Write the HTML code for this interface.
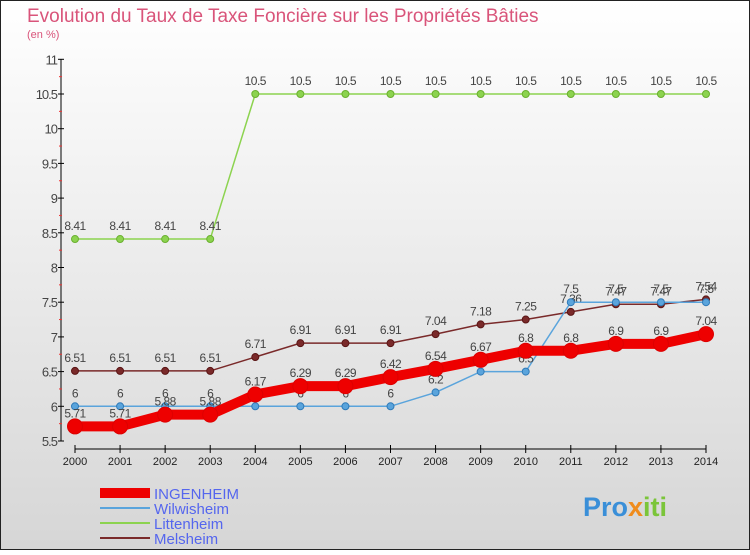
<!DOCTYPE html>
<html><head><meta charset="utf-8"><style>
body{margin:0;width:750px;height:550px;overflow:hidden;font-family:"Liberation Sans",sans-serif}
svg text{font-family:"Liberation Sans",sans-serif}
</style></head><body>
<svg id="c" width="750" height="550">
<defs><linearGradient id="bg" x1="0" y1="0" x2="0" y2="1"><stop offset="0" stop-color="#ffffff"/><stop offset="1" stop-color="#d6d6d6"/></linearGradient></defs>
<rect x="0.5" y="0.5" width="749" height="549" fill="url(#bg)" stroke="#222"/>
<text x="27" y="22" font-size="19" fill="#d9547a">Evolution du Taux de Taxe Foncière sur les Propriétés Bâties</text>
<text x="27" y="38" font-size="11" fill="#d9547a">(en %)</text>
<g id="axes"></g><g id="series"></g><g id="legend"></g>
<text x="583" y="516" font-size="27" font-weight="bold" fill="#3a8fd8">Pro<tspan fill="#f08c1c">x</tspan><tspan fill="#7bc53a">iti</tspan></text>
</svg>
<script>
const years=[2000,2001,2002,2003,2004,2005,2006,2007,2008,2009,2010,2011,2012,2013,2014];
const yTicks=[5.5,6,6.5,7,7.5,8,8.5,9,9.5,10,10.5,11];
const ingenheim=[5.71,5.71,5.88,5.88,6.17,6.29,6.29,6.42,6.54,6.67,6.8,6.8,6.9,6.9,7.04];
const wilwisheim=[6,6,6,6,6,6,6,6,6.2,6.5,6.5,7.5,7.5,7.5,7.5];
const littenheim=[8.41,8.41,8.41,8.41,10.5,10.5,10.5,10.5,10.5,10.5,10.5,10.5,10.5,10.5,10.5];
const melsheim=[6.51,6.51,6.51,6.51,6.71,6.91,6.91,6.91,7.04,7.18,7.25,7.36,7.47,7.47,7.54];
const NS="http://www.w3.org/2000/svg";
const x=i=>75+i*(631/14);
const y=v=>441-(v-5.5)*69.4;
function mk(tag,attrs,parent){const e=document.createElementNS(NS,tag);for(const k in attrs)e.setAttribute(k,attrs[k]);parent.appendChild(e);return e;}
const ax=document.getElementById('axes');
let l=mk('line',{x1:61,y1:y(11),x2:61,y2:y(5.5),stroke:'#000'},ax);


l=mk('line',{x1:75,y1:449,x2:706,y2:449,stroke:'#000'},ax);


yTicks.forEach((v,i)=>{
 mk('line',{x1:58,y1:y(v),x2:64,y2:y(v),stroke:'#000'},ax);
 if(i<yTicks.length-1) mk('line',{x1:59,y1:y(v+0.25),x2:62,y2:y(v+0.25),stroke:'#e33'},ax);
 const t=mk('text',{x:57,y:y(v)+5,'font-size':13,'text-anchor':'end',fill:'#444','letter-spacing':'-1'},ax);
 t.textContent=String(v);
 
 
});
years.forEach((yr,i)=>{
 mk('line',{x1:x(i),y1:445,x2:x(i),y2:453,stroke:'#000'},ax);
 const t=mk('text',{x:x(i),y:465,'font-size':11,'text-anchor':'middle',fill:'#222'},ax);
 t.textContent=yr;
 
 
});
const sg=document.getElementById('series');
function series(name,vals,color,w,r,stroke){
 const g=mk('g',{},sg);
 
 
 const p=mk('polyline',{points:vals.map((v,i)=>x(i)+','+y(v)).join(' '),fill:'none',stroke:color,'stroke-width':w},g);
 
 
 vals.forEach((v,i)=>{
  const c=mk('circle',{cx:x(i),cy:y(v),r:r,fill:color,stroke:stroke,'stroke-width':1},g);
  
  
  const t=mk('text',{x:x(i),y:y(v)-9,'font-size':12,'text-anchor':'middle',fill:'#444','letter-spacing':'-0.5'},g);
  t.textContent=String(v);
  
  
 });
}
series('littenheim',littenheim,'#8cd34f',1.5,3.5,'#6ab02f');
series('melsheim',melsheim,'#7a2a2a',1.5,3.5,'#5a1515');
series('wilwisheim',wilwisheim,'#5aa4dc',1.5,3.5,'#2f7ab8');
series('ingenheim',ingenheim,'#ee0000',10,7.5,'#dd0000');
const lg=document.getElementById('legend');
const items=[['INGENHEIM','#ee0000',10],['Wilwisheim','#5aa4dc',2],['Littenheim','#8cd34f',2],['Melsheim','#7a2a2a',2]];
items.forEach((it,i)=>{
 const yy=493+i*15;
 const g=mk('g',{},lg);
 
 
 mk('line',{x1:100,y1:yy,x2:150,y2:yy,stroke:it[1],'stroke-width':it[2]},g);
 const t=mk('text',{x:154,y:yy+6,'font-size':15,fill:'#5566ee'},g);
 t.textContent=it[0];
});
</script>
</body></html>
